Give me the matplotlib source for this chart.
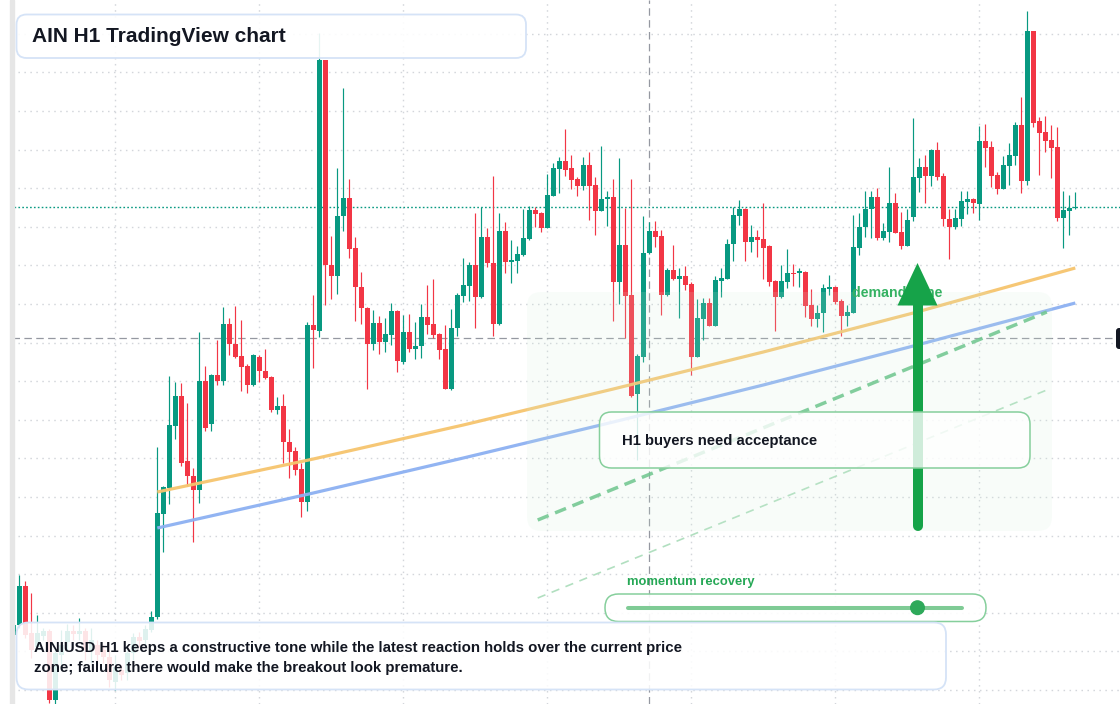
import numpy as np
import matplotlib
matplotlib.use("Agg")
import matplotlib.pyplot as plt
from matplotlib.patches import FancyBboxPatch, Rectangle, Polygon, Circle

# ---------------- data (H1 candles, arbitrary price units) ----------------
opens = [365, 375, 414, 367, 353, 364, 369, 300, 345, 358,
         369, 366, 369, 350, 355, 350, 343, 318, 330, 327,
         347, 363, 360, 370, 383, 486, 512, 574, 604, 539,
         524, 510, 619, 576, 625, 619, 676, 656, 644, 634,
         615, 643, 629, 623, 590, 594, 558, 549, 531, 498,
         675, 669, 940, 735, 724, 784, 802, 752, 713, 692,
         656, 677, 658, 665, 689, 638, 668, 651, 654, 683,
         676, 666, 651, 611, 672, 704, 714, 735, 703, 763,
         737, 676, 769, 738, 739, 745, 761, 790, 787, 772,
         804, 831, 839, 832, 821, 814, 835, 815, 789, 801,
         803, 718, 755, 705, 606, 643, 747, 769, 764, 705,
         730, 721, 724, 716, 643, 681, 697, 674, 719, 721,
         756, 784, 791, 758, 763, 761, 754, 719, 703, 718,
         727, 727, 728, 695, 681, 687, 711, 713, 699, 684,
         687, 752, 773, 791, 803, 762, 768, 797, 768, 754,
         783, 822, 833, 824, 850, 824, 781, 773, 781, 798,
         801, 796, 859, 853, 825, 811, 834, 844, 875, 819,
         969, 879, 868, 860, 853, 782, 789, 792]
highs = [380, 425, 419, 407, 385, 372, 371, 350, 370, 376,
         375, 382, 372, 372, 360, 355, 350, 345, 335, 350,
         367, 368, 375, 389, 553, 514, 624, 618, 617, 597,
         532, 668, 634, 626, 660, 693, 682, 694, 680, 636,
         646, 645, 651, 624, 603, 606, 571, 553, 537, 678,
         705, 967, 940, 764, 832, 912, 821, 763, 728, 693,
         690, 684, 682, 697, 690, 685, 686, 678, 696, 715,
         721, 667, 675, 691, 707, 742, 738, 787, 793, 772,
         824, 787, 778, 760, 754, 791, 794, 793, 788, 826,
         837, 843, 871, 845, 823, 843, 848, 823, 854, 809,
         821, 842, 792, 821, 646, 784, 778, 779, 770, 732,
         755, 732, 734, 718, 701, 702, 702, 724, 732, 761,
         793, 800, 792, 775, 770, 797, 755, 720, 735, 751,
         736, 732, 729, 711, 695, 716, 725, 714, 701, 695,
         785, 787, 809, 809, 812, 777, 833, 807, 788, 791,
         882, 842, 845, 851, 858, 827, 791, 791, 809, 809,
         802, 874, 876, 859, 828, 844, 857, 878, 903, 989,
         969, 883, 884, 875, 873, 809, 805, 808]
lows = [360, 372, 362, 342, 350, 360, 297, 296, 335, 350,
        360, 360, 340, 337, 335, 337, 313, 310, 320, 320,
        340, 353, 355, 368, 381, 448, 496, 561, 534, 514,
        458, 497, 569, 569, 615, 615, 645, 642, 609, 607,
        614, 618, 621, 588, 586, 537, 522, 525, 483, 489,
        632, 663, 695, 701, 706, 769, 742, 679, 676, 611,
        650, 646, 648, 655, 628, 636, 648, 641, 642, 666,
        662, 641, 611, 610, 664, 698, 699, 672, 702, 733,
        664, 675, 727, 717, 727, 744, 760, 773, 768, 772,
        804, 807, 824, 811, 804, 810, 780, 765, 789, 774,
        679, 696, 662, 603, 540, 638, 746, 753, 685, 704,
        720, 682, 710, 625, 643, 660, 674, 674, 703, 721,
        739, 775, 739, 748, 743, 721, 714, 669, 702, 712,
        714, 713, 683, 674, 673, 668, 705, 696, 664, 674,
        687, 745, 763, 762, 760, 760, 758, 767, 751, 754,
        779, 808, 797, 814, 820, 774, 741, 771, 774, 786,
        787, 780, 833, 813, 806, 811, 815, 835, 807, 815,
        873, 825, 848, 822, 779, 752, 765, 791]
closes = [375, 414, 365, 350, 367, 369, 300, 347, 355, 369,
          366, 369, 350, 360, 345, 343, 320, 333, 325, 347,
          363, 359, 371, 383, 487, 513, 575, 604, 537, 524,
          510, 619, 572, 625, 619, 676, 656, 643, 633, 615,
          645, 629, 622, 590, 594, 558, 548, 530, 498, 675,
          670, 940, 735, 724, 784, 802, 751, 713, 692, 656,
          677, 658, 666, 689, 639, 668, 651, 654, 683, 675,
          665, 650, 611, 672, 705, 715, 735, 703, 763, 737,
          676, 769, 738, 740, 746, 762, 790, 786, 772, 805,
          832, 839, 830, 820, 814, 835, 814, 789, 801, 803,
          718, 755, 704, 604, 644, 747, 769, 763, 705, 730,
          721, 724, 715, 643, 682, 697, 674, 720, 722, 756,
          785, 791, 758, 763, 760, 752, 718, 703, 719, 727,
          726, 729, 694, 681, 687, 712, 713, 698, 684, 688,
          753, 773, 791, 803, 762, 769, 797, 767, 754, 780,
          823, 833, 824, 850, 823, 781, 773, 782, 799, 801,
          797, 859, 852, 824, 811, 835, 845, 875, 819, 969,
          877, 867, 859, 852, 782, 790, 792, 793]

# overlay lines (bar index, price)
orange_idx = [24, 50, 75, 100, 125, 150, 177]
orange_val = [508, 541, 575, 611, 648, 687, 732]
blue_idx = [24, 50, 75, 100, 125, 150, 177]
blue_val = [472, 507, 542, 578, 615, 654, 697]
trend_idx = [87.4, 172.25]
trend_thick = [480, 688]
trend_thin = [402, 610]
last_price = 793
cross_price = 662
cross_bar = 106

title = "AIN H1 TradingView chart"
note_lines = ["AINIUSD H1 keeps a constructive tone while the latest reaction holds over the current price",
              "zone; failure there would make the breakout look premature."]
box_text = "H1 buyers need acceptance"
zone_text = "demand zone"
momentum_text = "momentum recovery"

# ---------------- figure ----------------
W, H = 1120, 704
fig = plt.figure(figsize=(W / 100, H / 100), dpi=100)
fig.patch.set_facecolor("white")

o = np.array(opens, float); c = np.array(closes, float)
h = np.maximum(np.array(highs, float), np.maximum(o, c))
l = np.minimum(np.array(lows, float), np.minimum(o, c))
idx = np.arange(len(o))

ax = fig.add_axes([0, 0, 1, 1])
ax.set_xlim(-13.3 / 6, (W - 13.3) / 6)
ax.set_ylim(1000 - H, 1000)
ax.axis("off")

GREEN = "#089981"; RED = "#f23645"
colors = np.where(c >= o, GREEN, RED)

# grid
for gy in np.arange(310.0, 1000, 38.6):
    ax.axhline(gy, color="#d3d6db", lw=1.0, ls=(0, (1.1, 3.2)), zorder=0)
for gx in range(-7, 185, 24):
    ax.axvline(gx, color="#d3d6db", lw=1.0, ls=(0, (1.1, 3.2)), zorder=0)

# candles
ax.vlines(idx, l, h, colors=colors, lw=0.85, zorder=2)
body_h = np.maximum(np.abs(c - o), 1.2)
ax.bar(idx, body_h, bottom=np.minimum(o, c), width=0.8, color=colors, linewidth=0, zorder=3)

# crosshair & price line
ax.plot([-0.2, 183.2], [cross_price, cross_price], color="#9598a1", lw=0.9, ls=(0, (6, 3.5)), zorder=1.5)
ax.axvline(cross_bar, color="#9598a1", lw=0.9, ls=(0, (6, 3.5)), zorder=1.5)
ax.plot([0.1, 185], [last_price, last_price], color=GREEN, lw=1.0, ls=(0, (1.2, 1.6)), zorder=1.6)

# overlay lines
ax.plot(orange_idx, orange_val, color="#f6c46e", lw=2.3, alpha=0.95, zorder=4, solid_capstyle="butt")
ax.plot(blue_idx, blue_val, color="#8cb0f2", lw=2.3, alpha=0.95, zorder=4, solid_capstyle="butt")
ax.plot(trend_idx, trend_thick, color="#5dbf80", lw=2.5, alpha=0.85, ls=(0, (3.4, 2.0)), zorder=4)
ax.plot(trend_idx, trend_thin, color="#a9dcb9", lw=1.2, alpha=0.9, ls=(0, (5, 4)), zorder=4)

# ---------------- overlay annotations (pixel layout) ----------------
ov = fig.add_axes([0, 0, 1, 1], zorder=5)
ov.set_xlim(0, W); ov.set_ylim(H, 0); ov.axis("off"); ov.patch.set_alpha(0)

ov.add_patch(Rectangle((0, 0), 10, H, color="white", zorder=1))
ov.add_patch(Rectangle((10, 0), 4, H, color="#e6e6e6", zorder=1))

# demand zone
ov.add_patch(FancyBboxPatch((527, 292), 525, 239, boxstyle="round,pad=0,rounding_size=14",
                            fc="#d3f0db", ec="none", alpha=0.15, zorder=1))
ov.text(852, 293, zone_text, fontsize=10.2, fontweight="bold", color="#34b262",
        family="Liberation Sans", va="center", ha="left", zorder=2)

# arrow
ov.plot([917.5, 917.5], [526, 300], color="#16a349", lw=7.2, solid_capstyle="round", zorder=3)
ov.add_patch(Polygon([(897.5, 305.5), (937.5, 305.5), (917.5, 263)], closed=True,
                     fc="#16a349", ec="none", zorder=3))

# acceptance box
ov.add_patch(FancyBboxPatch((599.5, 412), 430.5, 56, boxstyle="round,pad=0,rounding_size=12",
                            fc="white", ec="none", alpha=0.8, zorder=4))
ov.add_patch(FancyBboxPatch((599.5, 412), 430.5, 56, boxstyle="round,pad=0,rounding_size=12",
                            fc="none", ec="#86cf9c", lw=1.1, zorder=4))
ov.text(622, 441, box_text, fontsize=10.7, fontweight="bold", color="#131722",
        family="Liberation Sans", va="center", ha="left", zorder=5)

# momentum widget
ov.text(627, 582.5, momentum_text, fontsize=9.4, fontweight="bold", color="#26a856",
        family="Liberation Sans", va="center", ha="left", zorder=5)
ov.add_patch(FancyBboxPatch((605, 594), 381, 27.5, boxstyle="round,pad=0,rounding_size=13.5",
                            fc="white", ec="none", alpha=0.9, zorder=4))
ov.add_patch(FancyBboxPatch((605, 594), 381, 27.5, boxstyle="round,pad=0,rounding_size=13.5",
                            fc="none", ec="#86cf9c", lw=1.1, zorder=4))
ov.plot([628, 962], [607.7, 607.7], color="#7fcb95", lw=2.9, solid_capstyle="round", zorder=5)
ov.add_patch(Circle((917.5, 607.7), 6.8, color="#2ea95a", zorder=6))

# note box
ov.add_patch(FancyBboxPatch((16.5, 622.5), 929.5, 67, boxstyle="round,pad=0,rounding_size=12",
                            fc="white", ec="none", alpha=0.87, zorder=4))
ov.add_patch(FancyBboxPatch((16.5, 622.5), 929.5, 67, boxstyle="round,pad=0,rounding_size=12",
                            fc="none", ec="#d5e3f7", lw=1.3, zorder=4))
for k, line in enumerate(note_lines):
    ov.text(34, 648 + 20 * k, line, fontsize=10.8, fontweight="bold", color="#131722",
            family="Liberation Sans", va="center", ha="left", zorder=5)

# title box
ov.add_patch(FancyBboxPatch((16.5, 14.5), 509.5, 43.5, boxstyle="round,pad=0,rounding_size=10",
                            fc="white", ec="none", alpha=0.9, zorder=4))
ov.add_patch(FancyBboxPatch((16.5, 14.5), 509.5, 43.5, boxstyle="round,pad=0,rounding_size=10",
                            fc="none", ec="#d5e3f7", lw=1.3, zorder=4))
ov.text(32, 36.5, title, fontsize=15, fontweight="bold", color="#131722",
        family="Liberation Sans", va="center", ha="left", zorder=5)

# crosshair price label (cut at the edge)
ov.add_patch(FancyBboxPatch((1116, 328), 30, 21, boxstyle="round,pad=0,rounding_size=3",
                            fc="#131722", ec="none", zorder=6))

fig.savefig("out.png", dpi=100, facecolor="white")
